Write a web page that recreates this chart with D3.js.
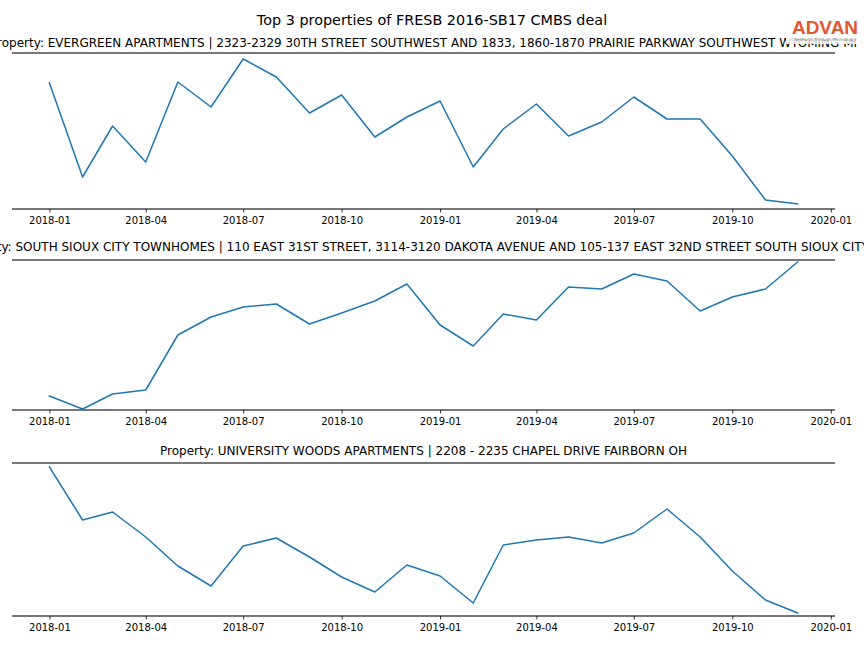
<!DOCTYPE html>
<html><head><meta charset="utf-8">
<script src="https://cdn.jsdelivr.net/npm/d3@7"></script>
<style>html,body{margin:0;padding:0;background:#fff;}svg{display:block;font-family:"DejaVu Sans",sans-serif;}</style>
</head><body>
<svg id="chart" width="864" height="648"></svg>
<script>
// ---- data (relative index values; no y-axis in the original) ----
const months = ["2018-01","2018-02","2018-03","2018-04","2018-05","2018-06","2018-07","2018-08","2018-09","2018-10","2018-11","2018-12",
                "2019-01","2019-02","2019-03","2019-04","2019-05","2019-06","2019-07","2019-08","2019-09","2019-10","2019-11","2019-12"];
const titles = [
  "Property: EVERGREEN APARTMENTS | 2323-2329 30TH STREET SOUTHWEST AND 1833, 1860-1870 PRAIRIE PARKWAY SOUTHWEST WYOMING MI",
  "Property: SOUTH SIOUX CITY TOWNHOMES | 110 EAST 31ST STREET, 3114-3120 DAKOTA AVENUE AND 105-137 EAST 32ND STREET SOUTH SIOUX CITY NE",
  "Property: UNIVERSITY WOODS APARTMENTS | 2208 - 2235 CHAPEL DRIVE FAIRBORN OH"
];
const evergreen = [126,32,83,47,127,102,150,132,96,114,72,92,108,42,80,105,73,87,112,90,90,53,9,5];
const siouxCity = [14,1,16,20,75,93,103,106,86,97,109,126,85,64,96,90,123,121,136,129,99,113,121,148];
const university = [149,96,104,79,50,30,70,78,59,39,24,51,40,13,71,76,79,73,83,107,79,45,16,3];
const yDomains = [[0,156],[0,150],[0,153]];
const tickLabels = ["2018-01","2018-04","2018-07","2018-10","2019-01","2019-04","2019-07","2019-10","2020-01"];
const suptitle = "Top 3 properties of FRESB 2016-SB17 CMBS deal";

const series = [evergreen, siouxCity, university];
const panels = [{top:53,bottom:209,titleY:46.5},{top:260,bottom:410,titleY:250.5},{top:463,bottom:616,titleY:454.5}];
const left = 12, right = 835;

const svg = d3.select("#chart");
const parse = d3.timeParse("%Y-%m");
const dates = months.map(parse);
const ticks = tickLabels.map(parse);
const x0 = parse("2018-01"), x1 = parse("2019-12");
const span = x1 - x0;
const x = d3.scaleTime().domain([new Date(+x0 - span*0.05), new Date(+x1 + span*0.05)]).range([left, right]);

svg.append("text").attr("x",432).attr("y",25).attr("text-anchor","middle")
  .attr("font-size",14.4).attr("fill","#000").text(suptitle);

series.forEach((vals, i) => {
  const p = panels[i];
  const y = d3.scaleLinear().domain(yDomains[i]).range([p.bottom, p.top]);
  const g = svg.append("g");
  g.append("text").attr("x",(left+right)/2).attr("y",p.titleY).attr("text-anchor","middle")
    .attr("font-size",12).attr("fill","#000").text(titles[i]);
  const line = d3.line().x((d,j)=>x(dates[j])).y(d=>y(d));
  g.append("path").datum(vals).attr("d",line).attr("fill","none")
    .attr("stroke","#1f77b4").attr("stroke-width",1.5).attr("stroke-linejoin","round").attr("stroke-linecap","square");
  // spines
  g.append("line").attr("x1",left).attr("x2",right).attr("y1",p.top).attr("y2",p.top).attr("stroke","#4a4a4a").attr("stroke-width",1.6);
  const ax = g.append("g").attr("transform",`translate(0,${p.bottom})`)
    .call(d3.axisBottom(x).tickValues(ticks).tickFormat(d3.timeFormat("%Y-%m")).tickSize(3.5).tickPadding(4));
  ax.select(".domain").attr("stroke","#4a4a4a").attr("stroke-width",1.6).attr("d",`M${left},0H${right}`);
  ax.selectAll(".tick line").attr("stroke","#000").attr("stroke-width",0.8);
  ax.selectAll(".tick text").attr("font-size",10).attr("fill","#000").attr("font-family","DejaVu Sans");
});

// logo overlay
const logo = svg.append("g");
logo.append("rect").attr("x",786).attr("y",14).attr("width",76).attr("height",30).attr("fill","#fff").attr("opacity",0.82);
logo.append("text").attr("x",825).attr("y",34).attr("text-anchor","middle").attr("font-size",19).attr("font-weight","bold")
  .attr("font-family","Liberation Sans, Arial, sans-serif").attr("fill","#e4572e").text("ADVAN");
logo.append("text").attr("x",825).attr("y",40.5).attr("text-anchor","middle").attr("font-size",4.2)
  .attr("fill","#777").text("Research through Technology");
</script>
</body></html>
